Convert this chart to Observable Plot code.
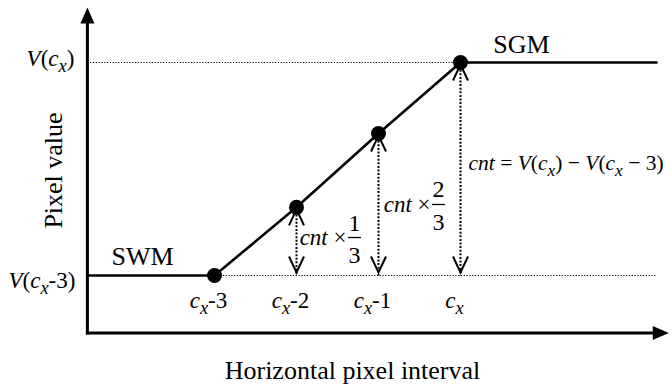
<!DOCTYPE html>
<html><head><meta charset="utf-8">
<script src="https://cdn.jsdelivr.net/npm/d3@7"></script>
<script src="https://cdn.jsdelivr.net/npm/@observablehq/plot@0.6"></script>
<style>
html,body{margin:0;padding:0;background:#fff;}
svg text, svg tspan{font-family:'Liberation Serif','Times New Roman',serif;}
</style></head><body><div id="chart"></div>
<script>
// ---------- data ----------
const intervalPositions = [-3, -2, -1, 0];
const intervalLabels = ["*c*_x-3", "*c*_x-2", "*c*_x-1", "*c*_x"];
const pixelValues = [0, 0.96, 2, 3];
const levelValues = [0, 3];
const levelLabels = ["*V*(*c*_x-3)", "*V*(*c*_x)"];
const regionNames = ["SWM", "SGM"];
const fractionNumerators = ["1", "2"];
const fractionDenominators = ["3", "3"];
const fractionPrefix = "*cnt* ×";
const formulaText = "*cnt* = *V*(*c*_x) − *V*(*c*_x − 3)";
const xTitle = "Horizontal pixel interval";
const yTitle = "Pixel value";

// ---------- layout (data units) ----------
const X0 = -4.55, Y0 = -0.81, XTIP = 2.54, YTIP = 3.775, XEND = 2.39;
const FONT = "'Liberation Serif', 'Times New Roman', serif";

const points = intervalPositions.map((x, i) => ({x, y: pixelValues[i], label: intervalLabels[i]}));
const rises = points.slice(1);
const curve = [{x: X0, y: pixelValues[0]}, ...points, {x: XEND, y: pixelValues[pixelValues.length - 1]}];
const guides = [
  {x1: X0, x2: points[points.length - 1].x, y: pixelValues[pixelValues.length - 1]},
  {x1: points[0].x, x2: XEND, y: pixelValues[0]}
];
const fracs = [
  {x: -1.293, y: 0.535, num: fractionNumerators[0], den: fractionDenominators[0]},
  {x: -0.268, y: 1.0, num: fractionNumerators[1], den: fractionDenominators[1]}
];

const sym = f => ({draw(c) { f(c); }});
const vDown = sym(c => { c.moveTo(-7.5, -16); c.lineTo(0, 0); c.lineTo(7.5, -16); });
const vUp = sym(c => { c.moveTo(-7.5, 16); c.lineTo(0, 0); c.lineTo(7.5, 16); });
const triUp = sym(c => { c.moveTo(0, 0); c.lineTo(-7, 16); c.lineTo(7, 16); c.closePath(); });
const triRight = sym(c => { c.moveTo(0, 0); c.lineTo(-16, -7); c.lineTo(-16, 7); c.closePath(); });
const hbar = sym(c => { c.moveTo(-6.5, 0); c.lineTo(6.5, 0); });

const T = {fontFamily: FONT, fill: "black"};

const chart = Plot.plot({
  width: 672, height: 386,
  marginTop: 0, marginRight: 0, marginBottom: 0, marginLeft: 0,
  style: {fontFamily: FONT, background: "white", color: "black"},
  x: {domain: [-5.6098, 2.5854], axis: null},
  y: {domain: [-1.5634, 3.8732], axis: null},
  marks: [
    // dotted guides
    Plot.link(guides, {x1: "x1", x2: "x2", y1: "y", y2: "y", stroke: "black", strokeWidth: 1.2, strokeDasharray: "1.2,1.6"}),
    Plot.link(rises, {x1: "x", x2: "x", y1: "y", y2: () => pixelValues[0], stroke: "black", strokeWidth: 2, strokeDasharray: "2,1.6"}),
    Plot.dot(rises, {x: "x", y: "y", symbol: vUp, dy: 2, fill: "none", stroke: "black", strokeWidth: 2}),
    Plot.dot(rises, {x: "x", y: () => pixelValues[0], symbol: vDown, dy: -3, fill: "none", stroke: "black", strokeWidth: 2}),
    // axes
    Plot.link([{x1: X0, y1: Y0, x2: X0, y2: YTIP - 0.1}, {x1: X0, y1: Y0, x2: XTIP - 0.1, y2: Y0}],
      {x1: "x1", y1: "y1", x2: "x2", y2: "y2", stroke: "black", strokeWidth: 3, strokeLinecap: "square"}),
    Plot.dot([{x: X0, y: YTIP}], {x: "x", y: "y", symbol: triUp, fill: "black", stroke: "none"}),
    Plot.dot([{x: XTIP, y: Y0}], {x: "x", y: "y", symbol: triRight, fill: "black", stroke: "none"}),
    // curve
    Plot.line(curve, {x: "x", y: "y", stroke: "black", strokeWidth: 2.6}),
    Plot.dot(points, {x: "x", y: "y", r: 7.5, fill: "black", stroke: "none"}),
    // tick-like labels
    Plot.text(points, {x: "x", y: () => pixelValues[0], text: "label", dy: 25, dx: -6, fontSize: 23, lineAnchor: "middle", ...T}),
    Plot.text([{y: levelValues[1], t: levelLabels[1]}], {x: () => X0, y: "y", text: "t", textAnchor: "end", dx: -13, dy: -4, fontSize: 23, lineAnchor: "middle", ...T}),
    Plot.text([{y: levelValues[0], t: levelLabels[0]}], {x: () => X0, y: "y", text: "t", textAnchor: "end", dx: -12, dy: 5, fontSize: 23, lineAnchor: "middle", ...T}),
    // region names
    Plot.text([{x: -3.878, y: pixelValues[0], t: regionNames[0]}], {x: "x", y: "y", text: "t", dy: -10, fontSize: 26, lineAnchor: "bottom", ...T}),
    Plot.text([{x: 0.744, y: pixelValues[3], t: regionNames[1]}], {x: "x", y: "y", text: "t", dy: -9, fontSize: 26, lineAnchor: "bottom", ...T}),
    // fractions
    Plot.text(fracs, {x: "x", y: "y", text: () => fractionPrefix, textAnchor: "end", dx: -8, fontSize: 23, lineAnchor: "middle", ...T}),
    Plot.dot(fracs, {x: "x", y: "y", symbol: hbar, stroke: "black", strokeWidth: 1.3, fill: "none"}),
    Plot.text(fracs, {x: "x", y: "y", text: "num", dy: -7, fontSize: 24, lineAnchor: "bottom", ...T}),
    Plot.text(fracs, {x: "x", y: "y", text: "den", dy: 8, fontSize: 24, lineAnchor: "top", ...T}),
    Plot.text([{x: 0.098, y: 1.577}], {x: "x", y: "y", text: () => formulaText, textAnchor: "start", fontSize: 21.5, lineAnchor: "middle", ...T}),
    // titles
    Plot.text([{x: -1.317, y: Y0}], {x: "x", y: "y", text: () => xTitle, dy: 46, fontSize: 26, lineAnchor: "bottom", ...T}),
    Plot.text([{x: X0, y: 1.479}], {x: "x", y: "y", text: () => yTitle, dx: -25, rotate: -90, fontSize: 26, lineAnchor: "bottom", ...T})
  ]
});
document.getElementById("chart").append(chart);

// ---------- italic / subscript markup -> tspans ----------
const NS = "http://www.w3.org/2000/svg";
chart.querySelectorAll("text").forEach(el => {
  const s = el.textContent;
  if (!/[*_]/.test(s) || el.querySelector("tspan")) return;
  const segs = [];
  let italic = false, cur = {text: "", italic: false, sub: false};
  const push = () => { if (cur.text) segs.push(cur); };
  for (let i = 0; i < s.length; i++) {
    const ch = s[i];
    if (ch === "*") { push(); italic = !italic; cur = {text: "", italic, sub: false}; continue; }
    if (ch === "_") { push(); segs.push({text: s[i + 1], italic: true, sub: true}); i++; cur = {text: "", italic, sub: false}; continue; }
    cur.text += ch;
  }
  push();
  el.textContent = "";
  let prevSub = false;
  for (const seg of segs) {
    const ts = document.createElementNS(NS, "tspan");
    ts.textContent = seg.text;
    ts.setAttribute("font-family", FONT);
    ts.setAttribute("font-style", seg.italic ? "italic" : "normal");
    if (seg.sub) { ts.setAttribute("font-size", "0.8em"); ts.setAttribute("dy", "0.35em"); }
    else if (prevSub) { ts.setAttribute("dy", "-0.28em"); }
    prevSub = seg.sub;
    el.append(ts);
  }
});
</script></body></html>
